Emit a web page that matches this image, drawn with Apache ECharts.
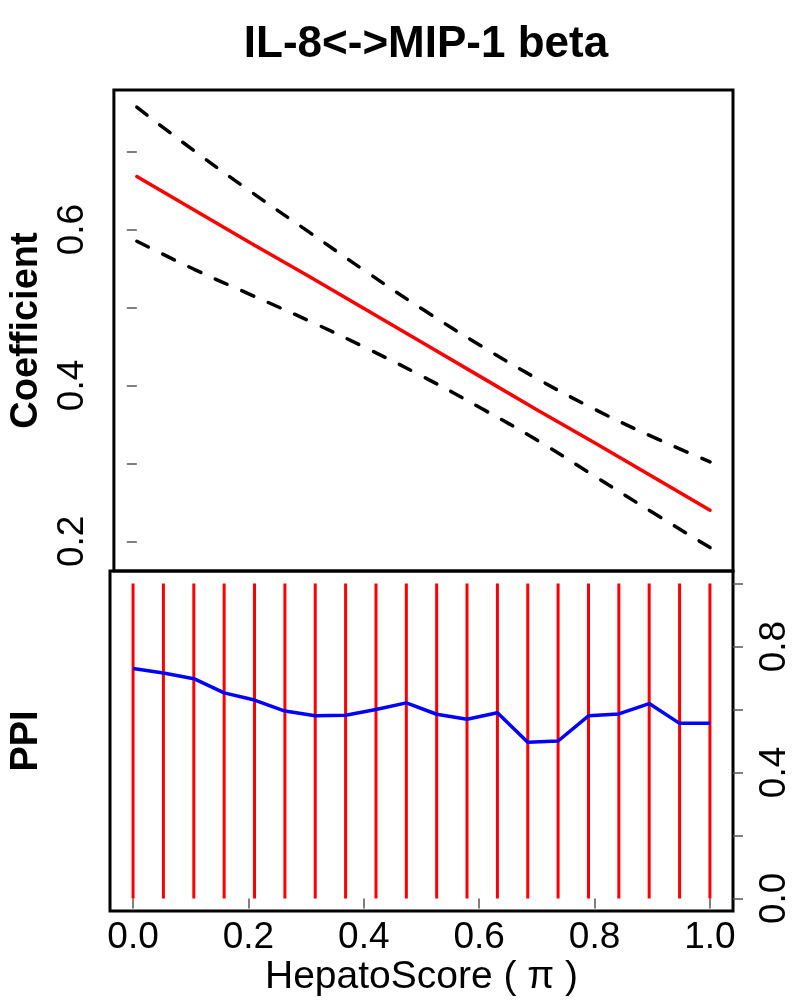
<!DOCTYPE html>
<html>
<head>
<meta charset="utf-8">
<script src="https://cdn.jsdelivr.net/npm/echarts@6/dist/echarts.min.js"></script>
<style>html,body{margin:0;padding:0;background:#fff;}#c{width:800px;height:1000px;}</style>
</head>
<body>
<div id="c"></div>
<script>
// ---- data ----
var titleText = 'IL-8<->MIP-1 beta';
var coefX     = [0, 0.1, 0.2, 0.3, 0.4, 0.5, 0.6, 0.7, 0.8, 0.9, 1.0];
var coefMean  = [0.668, 0.625, 0.582, 0.540, 0.497, 0.454, 0.411, 0.368, 0.326, 0.283, 0.240];
var coefUpper = [0.757, 0.701, 0.648, 0.597, 0.546, 0.497, 0.451, 0.408, 0.369, 0.334, 0.302];
var coefLower = [0.585, 0.549, 0.516, 0.483, 0.448, 0.411, 0.371, 0.329, 0.283, 0.237, 0.192];
var ppiX      = [0, 0.0526, 0.1053, 0.1579, 0.2105, 0.2632, 0.3158, 0.3684, 0.4211, 0.4737,
                 0.5263, 0.5789, 0.6316, 0.6842, 0.7368, 0.7895, 0.8421, 0.8947, 0.9474, 1.0];
var ppiValues = [0.730, 0.716, 0.698, 0.653, 0.630, 0.595, 0.580, 0.582, 0.600, 0.621,
                 0.585, 0.569, 0.590, 0.496, 0.500, 0.580, 0.586, 0.619, 0.556, 0.556];
var ppiBars   = [1, 1, 1, 1, 1, 1, 1, 1, 1, 1, 1, 1, 1, 1, 1, 1, 1, 1, 1, 1];
var xTicks    = [0, 0.2, 0.4, 0.6, 0.8, 1.0];
var coefTicks = [0.2, 0.3, 0.4, 0.5, 0.6, 0.7];
var coefLabels= [0.2, 0.4, 0.6];
var ppiTicks  = [0, 0.2, 0.4, 0.6, 0.8, 1.0];
var ppiLabels = [0, 0.4, 0.8];
var xName = 'HepatoScore ( \u03c0 )';
var coefName = 'Coefficient';
var ppiName = 'PPI';

function zip(a, b) { return a.map(function (v, i) { return [v, b[i]]; }); }

var FONT = 'Liberation Sans, Arial, sans-serif';
var tickStyle = { color: '#555', width: 1.5 };

var chart = echarts.init(document.getElementById('c'), null, { renderer: 'canvas' });
chart.setOption({
  animation: false,
  backgroundColor: '#fff',
  title: {
    text: titleText, left: 421, top: 18, textAlign: 'center',
    textStyle: { fontFamily: FONT, fontWeight: 'bold', fontSize: 44, color: '#000' }
  },
  grid: [
    { left: 109, width: 624, top: 90, height: 481, show: true, borderColor: '#000', borderWidth: 3, backgroundColor: 'transparent' },
    { left: 109, width: 624, top: 571, height: 340, show: true, borderColor: '#000', borderWidth: 3, backgroundColor: 'transparent' }
  ],
  xAxis: [
    { type: 'value', gridIndex: 0, min: -0.04, max: 1.04,
      axisLine: { show: false }, axisTick: { show: false }, axisLabel: { show: false }, splitLine: { show: false } },
    { type: 'value', gridIndex: 1, min: -0.04, max: 1.04,
      axisLine: { show: false }, splitLine: { show: false },
      axisTick: { show: true, length: 10, lineStyle: tickStyle, customValues: xTicks },
      axisLabel: { show: true, customValues: xTicks, margin: 8, fontFamily: FONT, fontSize: 37, color: '#000',
        formatter: function (v) { return Number(v).toFixed(1); } },
      name: xName, nameLocation: 'middle', nameGap: 47,
      nameTextStyle: { fontFamily: FONT, fontSize: 39, color: '#000' } }
  ],
  yAxis: [
    { type: 'value', gridIndex: 0, min: 0.162, max: 0.779, position: 'left',
      axisLine: { show: false }, splitLine: { show: false },
      axisTick: { show: true, length: 10, lineStyle: tickStyle, customValues: coefTicks },
      axisLabel: { show: true, customValues: coefLabels, rotate: 90, margin: 23, fontFamily: FONT, fontSize: 37, color: '#000',
        formatter: function (v) { return Number(v).toFixed(1); } },
      name: coefName, nameLocation: 'middle', nameRotate: 90, nameGap: 64,
      nameTextStyle: { fontFamily: FONT, fontWeight: 'bold', fontSize: 38, color: '#000' } },
    { type: 'value', gridIndex: 1, min: -0.04, max: 1.04, position: 'left',
      axisLine: { show: false }, splitLine: { show: false }, axisTick: { show: false }, axisLabel: { show: false },
      name: ppiName, nameLocation: 'middle', nameRotate: 90, nameGap: 64,
      nameTextStyle: { fontFamily: FONT, fontWeight: 'bold', fontSize: 38, color: '#000' } },
    { type: 'value', gridIndex: 1, min: -0.04, max: 1.04, position: 'right',
      axisLine: { show: false }, splitLine: { show: false },
      axisTick: { show: true, length: 10, lineStyle: tickStyle, customValues: ppiTicks },
      axisLabel: { show: true, customValues: ppiLabels, rotate: 90, margin: 23, fontFamily: FONT, fontSize: 37, color: '#000',
        formatter: function (v) { return Number(v).toFixed(1); } } }
  ],
  series: [
    { type: 'line', xAxisIndex: 0, yAxisIndex: 0, data: zip(coefX, coefUpper), smooth: true, showSymbol: false, silent: true,
      lineStyle: { color: '#000', width: 3.5, type: [13, 16], cap: 'round' } },
    { type: 'line', xAxisIndex: 0, yAxisIndex: 0, data: zip(coefX, coefLower), smooth: true, showSymbol: false, silent: true,
      lineStyle: { color: '#000', width: 3.5, type: [13, 16], cap: 'round' } },
    { type: 'line', xAxisIndex: 0, yAxisIndex: 0, data: zip(coefX, coefMean), showSymbol: false, silent: true,
      lineStyle: { color: '#ff0000', width: 3.5, cap: 'round' } },
    { type: 'bar', xAxisIndex: 1, yAxisIndex: 2, data: zip(ppiX, ppiBars), barWidth: 3, silent: true,
      itemStyle: { color: '#ff0000' } },
    { type: 'line', xAxisIndex: 1, yAxisIndex: 2, data: zip(ppiX, ppiValues), showSymbol: false, silent: true,
      lineStyle: { color: '#0000ff', width: 3.5 } }
  ]
});
</script>
</body>
</html>
